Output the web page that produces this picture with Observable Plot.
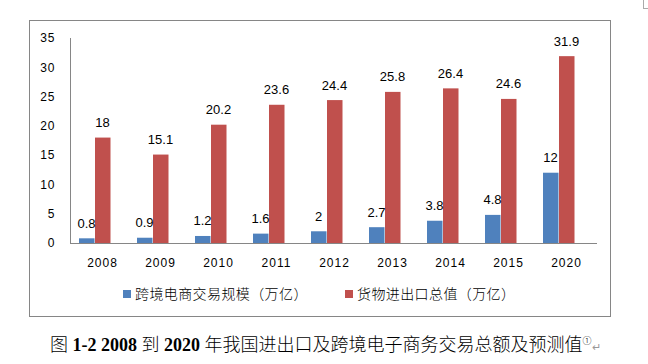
<!DOCTYPE html>
<html>
<head>
<meta charset="utf-8">
<script src="https://cdn.jsdelivr.net/npm/d3@7"></script>
<script src="https://cdn.jsdelivr.net/npm/@observablehq/plot@0.6"></script>
<style>
  html, body { margin: 0; padding: 0; background: #fff; }
  #wrap { position: relative; width: 648px; height: 364px; overflow: hidden; }
  #frame { position: absolute; left: 29px; top: 20px; width: 580px; height: 295px; border: 1px solid #868686; }
  #corner { position: absolute; left: 643px; top: -1px; width: 10px; height: 9px; border-left: 1px solid #aaa; border-bottom: 1px solid #aaa; }
  #chart { position: absolute; left: 0; top: 0; }
  .leg { position: absolute; top: 284px; font-family: "Noto Sans CJK SC", sans-serif; font-size: 14px; font-weight: 300; letter-spacing: 0.4px; line-height: 18px; color: #000; white-space: nowrap; }
  .sw { display: inline-block; width: 8px; height: 8px; margin-right: 4px; vertical-align: 1px; }
  #caption { position: absolute; left: 50px; top: 330px; font-family: "Liberation Serif", "Noto Sans CJK SC", serif; font-size: 18px; font-weight: 300; line-height: 22px; color: #000; white-space: nowrap; }
  #caption b { font-weight: 700; }
  #caption sup { font-size: 9px; }
  #caption .ret { color: #999; font-size: 11px; }
</style>
</head>
<body>
<div id="wrap">
  <div id="frame"></div>
  <div id="corner"></div>
  <div id="chart"></div>
  <div class="leg" id="leg1" style="left:123px"></div>
  <div class="leg" id="leg2" style="left:345px"></div>
  <div id="caption"></div>
</div>
<script>
const years = ["2008", "2009", "2010", "2011", "2012", "2013", "2014", "2015", "2020"];
const ecommerce = [0.8, 0.9, 1.2, 1.6, 2, 2.7, 3.8, 4.8, 12];
const trade = [18, 15.1, 20.2, 23.6, 24.4, 25.8, 26.4, 24.6, 31.9];
const seriesNames = ["跨境电商交易规模（万亿）", "货物进出口总值（万亿）"];
const yTicks = [0, 5, 10, 15, 20, 25, 30, 35];

const colors = ["#4F81BD", "#C0504D"];
const data = years.map((year, i) => ({year, ecom: ecommerce[i], trade: trade[i]}));

const chart = Plot.plot({
  width: 648,
  height: 280,
  marginLeft: 70,
  marginRight: 51,
  marginTop: 38,
  marginBottom: 37,
  style: {fontFamily: "'Liberation Sans', 'DejaVu Sans', sans-serif", fontSize: "12px", color: "#000", background: "transparent", overflow: "visible"},
  x: {domain: years, padding: 0},
  y: {domain: [0, 35]},
  marks: [
    Plot.barY(data, {x: "year", y: "ecom", fill: colors[0], insetLeft: 6, insetRight: 36.5}),
    Plot.barY(data, {x: "year", y: "trade", fill: colors[1], insetLeft: 22, insetRight: 20.5}),
    Plot.text(data, {x: "year", y: "ecom", text: d => String(d.ecom), dx: -16, dy: -11, lineAnchor: "bottom", fontSize: 13, fill: "#000"}),
    Plot.text(data, {x: "year", y: "trade", text: d => String(d.trade), dx: 0, dy: -11, lineAnchor: "bottom", fontSize: 13, fill: "#000"}),
    Plot.ruleY([0], {stroke: "#868686"}),
    Plot.frame({anchor: "left", stroke: "#868686"}),
    Plot.axisX({tickSize: 0, tickPadding: 15, label: null, fontSize: 12}),
    Plot.axisY({ticks: yTicks, tickSize: 0, tickPadding: 15, label: null, fontSize: 12})
  ]
});
document.getElementById("chart").appendChild(chart);
d3.select(chart).selectAll('[aria-label="x-axis tick label"] text, [aria-label="y-axis tick label"] text').attr("letter-spacing", "1px");

document.getElementById("leg1").innerHTML = `<span class="sw" style="background:${colors[0]}"></span>${seriesNames[0]}`;
document.getElementById("leg2").innerHTML = `<span class="sw" style="background:${colors[1]}"></span>${seriesNames[1]}`;
document.getElementById("caption").innerHTML = `图 <b>1-2</b> <b>2008</b> 到 <b>2020</b> 年我国进出口及跨境电子商务交易总额及预测值<sup>①</sup><span class="ret">↵</span>`;
</script>
</body>
</html>
